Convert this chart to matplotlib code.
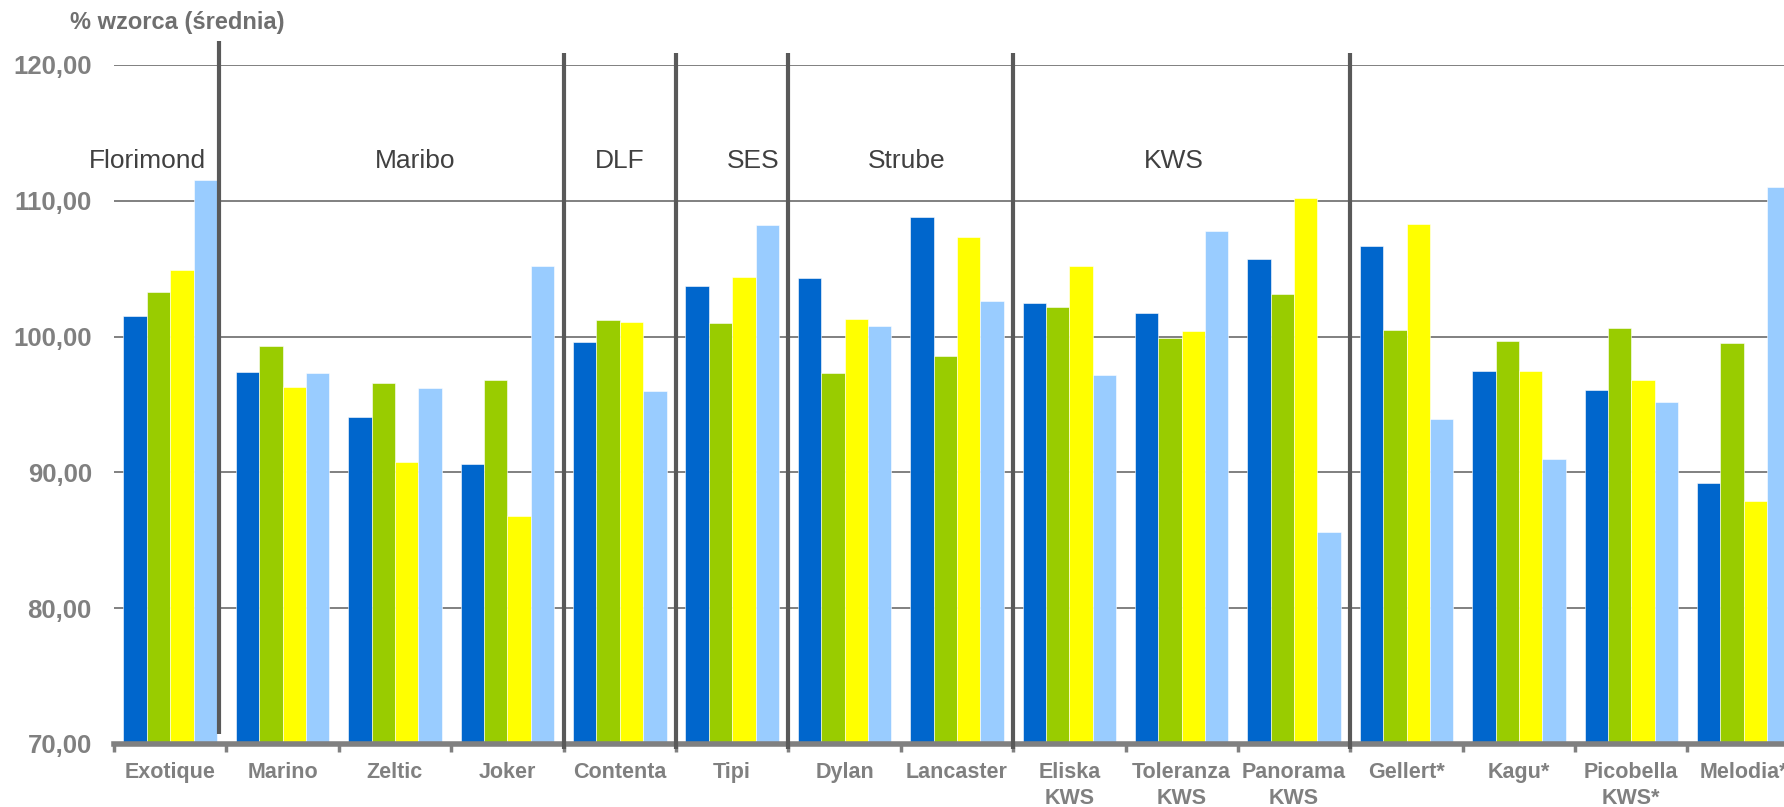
import numpy as np
import matplotlib
matplotlib.use("Agg")
import matplotlib.pyplot as plt
from matplotlib.ticker import FixedLocator, FuncFormatter

plt.rcParams["font.family"] = ["Liberation Sans", "DejaVu Sans"]

# chart data (% of standard, mean)
varieties = ["Exotique", "Marino", "Zeltic", "Joker", "Contenta", "Tipi",
             "Dylan", "Lancaster", "Eliska\nKWS", "Toleranza\nKWS",
             "Panorama\nKWS", "Gellert*", "Kagu*", "Picobella\nKWS*",
             "Melodia*"]
series_blue = [101.5, 97.4, 94.1, 90.6, 99.6, 103.7, 104.3, 108.8, 102.5,
               101.7, 105.7, 106.7, 97.5, 96.1, 89.2]
series_green = [103.3, 99.3, 96.6, 96.8, 101.2, 101.0, 97.3, 98.6, 102.2,
                99.9, 103.1, 100.5, 99.7, 100.6, 99.5]
series_yellow = [104.9, 96.3, 90.8, 86.8, 101.1, 104.4, 101.3, 107.3, 105.2,
                 100.4, 110.2, 108.3, 97.5, 96.8, 87.9]
series_lightblue = [111.5, 97.3, 96.2, 105.2, 96.0, 108.2, 100.8, 102.6, 97.2,
                    107.8, 85.6, 93.9, 91.0, 95.2, 111.0]

breeders = ["Florimond", "Maribo", "DLF", "SES", "Strube", "KWS"]
breeder_label_x = [-0.2, 2.18, 4.0, 5.19, 6.55, 8.93]
separator_x = [0.43, 3.5, 4.5, 5.5, 7.5, 10.5]

colors = ["#0066CC", "#99CC00", "#FFFF00", "#99CCFF"]
gray = "#808080"

fig = plt.figure(figsize=(17.84, 8.07), dpi=100)
ax = fig.add_axes([0.0639, 0.0781, 0.945, 0.8414])

x = np.arange(len(varieties))
w = 0.208
all_series = [series_blue, series_green, series_yellow, series_lightblue]
for i, (vals, c) in enumerate(zip(all_series, colors)):
    ax.bar(x + (i - 1.5) * w, np.array(vals) - 70, width=w, bottom=70,
           color=c, edgecolor="#ffffff", linewidth=0.4, zorder=2)

ax.set_xlim(-0.5, len(varieties) - 0.5)
ax.set_ylim(70, 120)

# y axis
ax.set_yticks([70, 80, 90, 100, 110, 120])
ax.yaxis.set_major_formatter(FuncFormatter(lambda v, p: f"{v:.2f}".replace(".", ",")))
ax.tick_params(axis="y", length=0, pad=16, labelsize=18.5, labelcolor=gray)
for lab in ax.get_yticklabels():
    lab.set_fontweight("bold")
ax.grid(axis="y", color=gray, linewidth=1.4, zorder=0)
ax.set_axisbelow(True)

# x axis
ax.set_xticks(x)
ax.set_xticklabels(varieties, fontsize=15.5, fontweight="bold", color=gray,
                   linespacing=1.33)
ax.tick_params(axis="x", which="major", length=0, pad=13)
ax.xaxis.set_minor_locator(FixedLocator(np.arange(-0.5, len(varieties), 1.0)))
ax.tick_params(axis="x", which="minor", length=6, width=2.5, color=gray,
               direction="out")

for s in ["top", "right", "left"]:
    ax.spines[s].set_visible(False)
ax.spines["bottom"].set_color(gray)
ax.spines["bottom"].set_linewidth(4)
ax.spines["bottom"].set_zorder(3)

# breeder separators
for i, sx in enumerate(separator_x):
    if i == 0:
        y0, y1 = 70.7, 121.8
    else:
        y0, y1 = 69.6, 120.85
    ax.plot([sx, sx], [y0, y1], color="#595959", linewidth=3,
            clip_on=False, zorder=4, solid_capstyle="butt")

for name, bx in zip(breeders, breeder_label_x):
    ax.text(bx, 112.96, name, ha="center", va="center", fontsize=19,
            color="#404040", zorder=5)

fig.text(70 / 1784, 1 - 23 / 807, "% wzorca (średnia)", ha="left",
         va="center", fontsize=17, fontweight="bold", color="#6f6f6f")

fig.savefig("out.png", dpi=100)
